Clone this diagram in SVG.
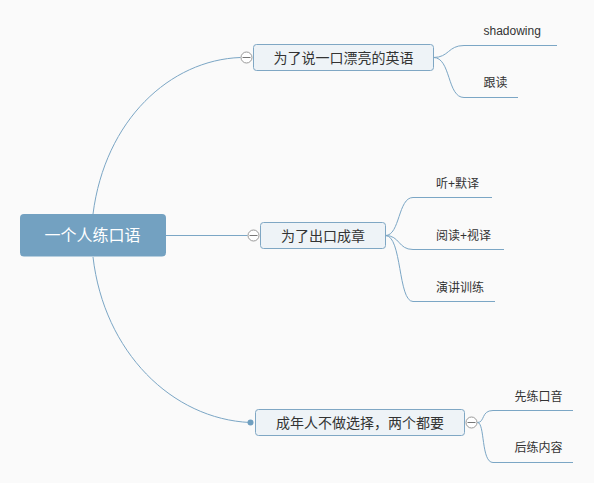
<svg xmlns="http://www.w3.org/2000/svg" width="594" height="483" viewBox="0 0 594 483">
<style>
.bg{fill:#fafafa}
.conn{fill:none;stroke:#7ba6c5;stroke-width:1}
.box{fill:#eef3f7;stroke:#7fa7c4;stroke-width:1}
.root{fill:#73a1c1}
.t{font-family:"Liberation Sans","Noto Sans CJK SC",sans-serif;fill:#333}
.nt{font-size:14px;text-anchor:middle}
.ct{font-size:12px}
.rt{font-family:"Liberation Sans","Noto Sans CJK SC",sans-serif;font-size:16px;fill:#fff;text-anchor:middle}
.col{fill:#fff;stroke:#999;stroke-width:1}
.minus{stroke:#777;stroke-width:1}
</style>
<rect class="bg" x="0" y="0" width="594" height="483"/>
<g id="connectors">
  <path class="conn" d="M 93 214 C 105 120, 170 60, 240.5 57.5"/>
  <path class="conn" d="M 166 235.5 L 247.5 235.5"/>
  <path class="conn" d="M 93 257 C 104 352, 172 419, 250 422.5"/>
  <path class="conn" d="M 433.5 57.5 C 449 57.5, 448 45.5, 464 45.5 L 557 45.5"/>
  <path class="conn" d="M 433.5 57.5 C 451 57.5, 447 97.5, 464 97.5 L 518 97.5"/>
  <path class="conn" d="M 385.5 235.5 C 400 235.5, 398 197.5, 413 197.5 L 492 197.5"/>
  <path class="conn" d="M 385.5 235.5 C 400 235.5, 398 249.5, 413 249.5 L 504 249.5"/>
  <path class="conn" d="M 385.5 235.5 C 402 235.5, 398 301.5, 413 301.5 L 495 301.5"/>
  <path class="conn" d="M 477.5 422.5 C 485 422.5, 481 410.5, 493 410.5 L 573 410.5"/>
  <path class="conn" d="M 477.5 422.5 C 485 422.5, 481 462.5, 493 462.5 L 573 462.5"/>
</g>
<g id="root">
  <rect class="root" x="20" y="214" width="146" height="42.5" rx="4"/>
  <text class="rt" x="92.5" y="241">一个人练口语</text>
</g>
<g id="node1">
  <rect class="box" x="253.5" y="44.5" width="180" height="26" rx="3"/>
  <text class="t nt" x="343.5" y="62.5">为了说一口漂亮的英语</text>
  <circle class="col" cx="246.5" cy="57.5" r="5.5"/>
  <line class="minus" x1="242.5" y1="57.5" x2="250.5" y2="57.5"/>
</g>
<g id="node1a"><text class="t ct" x="483.5" y="35">shadowing</text></g>
<g id="node1b"><text class="t ct" x="483.5" y="87">跟读</text></g>
<g id="node2">
  <rect class="box" x="260.5" y="222.5" width="125" height="26" rx="3"/>
  <text class="t nt" x="323" y="240.5">为了出口成章</text>
  <circle class="col" cx="253.5" cy="235.5" r="5.5"/>
  <line class="minus" x1="249.5" y1="235.5" x2="257.5" y2="235.5"/>
</g>
<g id="node2a"><text class="t ct" x="436" y="187.5">听+默译</text></g>
<g id="node2b"><text class="t ct" x="436" y="239.5">阅读+视译</text></g>
<g id="node2c"><text class="t ct" x="436" y="291.5">演讲训练</text></g>
<g id="node3">
  <rect class="box" x="255.5" y="409.5" width="209" height="26" rx="3"/>
  <text class="t nt" x="360" y="427.5">成年人不做选择，两个都要</text>
  <circle cx="250.5" cy="422.5" r="3" fill="#6f9fc0"/>
  <circle class="col" cx="471.5" cy="422.5" r="5.5"/>
  <line class="minus" x1="467.5" y1="422.5" x2="475.5" y2="422.5"/>
</g>
<g id="node3a"><text class="t ct" x="514.5" y="400.5">先练口音</text></g>
<g id="node3b"><text class="t ct" x="514.5" y="452">后练内容</text></g>
</svg>
